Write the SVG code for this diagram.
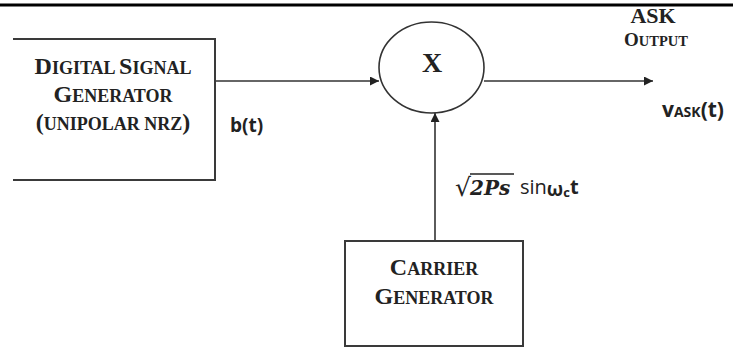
<svg xmlns="http://www.w3.org/2000/svg" width="735" height="350" viewBox="0 0 735 350">
<style>
.ln{fill:none;stroke:#333;stroke-width:1.6}
.bx{fill:#fff;stroke:#3a3a3a;stroke-width:2}
.sc{font-family:"Liberation Serif",serif;font-weight:bold;fill:#222;text-anchor:middle}
.b{font-size:24px}
.s{font-size:18px}
.sans{font-family:"Open Sans","Liberation Sans",sans-serif;font-weight:bold;fill:#222}
</style>
<defs>
<marker id="ah" viewBox="0 0 10 10" refX="10" refY="5" markerWidth="10" markerHeight="9" markerUnits="userSpaceOnUse" orient="auto">
<path d="M0,0 L10,5 L0,10 z" fill="#222"/>
</marker>
</defs>
<rect width="735" height="350" fill="#fff"/>
<line x1="0" y1="5" x2="733" y2="5" stroke="#000" stroke-width="3"/>
<g id="connectors">
<line class="ln" x1="215" y1="81" x2="379" y2="81" marker-end="url(#ah)"/>
<line class="ln" x1="484" y1="81" x2="653" y2="81" marker-end="url(#ah)"/>
<line class="ln" x1="435" y1="241" x2="435" y2="113" marker-end="url(#ah)"/>
</g>
<g id="digital-signal-generator">
<path class="bx" d="M13,39 H215 V180 H13"/>
<text class="sc" x="113" y="74"><tspan class="b">D</tspan><tspan class="s">IGITAL </tspan><tspan class="b">S</tspan><tspan class="s">IGNAL</tspan></text>
<text class="sc" x="113" y="102"><tspan class="b">G</tspan><tspan class="s">ENERATOR</tspan></text>
<text class="sc" x="113" y="130"><tspan class="b">(</tspan><tspan class="s">UNIPOLAR NRZ</tspan><tspan class="b">)</tspan></text>
</g>
<text class="sans" x="230" y="132" font-size="19">b(t)</text>
<g id="multiplier">
<ellipse cx="431.5" cy="67.5" rx="52.5" ry="45.5" fill="#fff" stroke="#333" stroke-width="1.6"/>
<text class="sc" x="432" y="72" font-size="28">X</text>
</g>
<g id="ask-output-label">
<text class="sc" x="653" y="23" font-size="22">ASK</text>
<text class="sc" x="656" y="46"><tspan font-size="19">O</tspan><tspan font-size="14.5">UTPUT</tspan></text>
</g>
<text class="sans" x="662" y="117" font-size="21">v<tspan font-size="14">ASK</tspan>(t)</text>
<g id="carrier-generator">
<rect class="bx" x="345" y="241" width="178" height="105"/>
<text class="sc" x="434" y="275"><tspan class="b">C</tspan><tspan class="s">ARRIER</tspan></text>
<text class="sc" x="434" y="304"><tspan class="b">G</tspan><tspan class="s">ENERATOR</tspan></text>
</g>
<g id="carrier-label">
<text x="455" y="196" font-family="'DejaVu Sans',sans-serif" font-size="25" fill="#222">√</text>
<line x1="470" y1="174" x2="514" y2="174" stroke="#222" stroke-width="1.4"/>
<text x="470" y="195" font-family="'DejaVu Serif',serif" font-weight="bold" font-style="italic" font-size="20" fill="#222">2Ps</text>
<text x="520" y="194" font-family="'Open Sans','Liberation Sans',sans-serif" font-size="20" fill="#222">sin<tspan font-weight="bold" font-size="19" dy="2">ω</tspan><tspan font-weight="bold" font-size="13" dy="1">c</tspan><tspan font-weight="bold" font-size="20" dy="-3">t</tspan></text>
</g>
</svg>
